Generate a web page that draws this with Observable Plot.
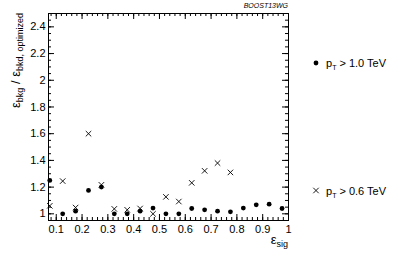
<!DOCTYPE html>
<html>
<head>
<meta charset="utf-8">
<script src="https://cdn.jsdelivr.net/npm/d3@7"></script>
<script src="https://cdn.jsdelivr.net/npm/@observablehq/plot@0.6"></script>
<style>
  html, body { margin: 0; padding: 0; background: #fff; }
  #chart { width: 399px; height: 254px; }
  svg { font-family: "Liberation Sans", Arial, sans-serif; }
</style>
</head>
<body>
<div id="chart"></div>
<script>
// signal efficiency bin centres
const effSig = [0.075, 0.125, 0.175, 0.225, 0.275, 0.325, 0.375, 0.425, 0.475, 0.525,
                0.575, 0.625, 0.675, 0.725, 0.775, 0.825, 0.875, 0.925, 0.975];
// pT > 1.0 TeV (filled circles)
const ratioHigh = [1.25, 1.00, 1.02, 1.175, 1.20, 1.00, 1.00, 1.02, 1.043, 1.00,
                   1.00, 1.04, 1.03, 1.02, 1.015, 1.043, 1.067, 1.072, 1.04];
// pT > 0.6 TeV (crosses)
const effSigLow = [0.075, 0.125, 0.175, 0.225, 0.275, 0.325, 0.375, 0.425, 0.475, 0.525,
                   0.575, 0.625, 0.675, 0.725, 0.775];
const ratioLow = [1.06, 1.245, 1.047, 1.60, 1.217, 1.037, 1.03, 1.04, 1.00, 1.127,
                  1.092, 1.232, 1.322, 1.38, 1.31];

const xMajor = [0.1, 0.2, 0.3, 0.4, 0.5, 0.6, 0.7, 0.8, 0.9, 1.0];
const xMinor = d3.range(4, 51).map(i => i * 0.02).filter(v => v >= 0.07 && v <= 1.0001);
const yMajor = [1.0, 1.2, 1.4, 1.6, 1.8, 2.0, 2.2, 2.4];
const yMinor = d3.range(19, 51).map(i => i * 0.05);

const high = effSig.map((x, i) => ({x, y: ratioHigh[i]}));
const low = effSigLow.map((x, i) => ({x, y: ratioLow[i]}));

const W = 399, H = 254;
const mL = 48, mR = 111, mT = 13, mB = 34;
const innerW = W - mL - mR, innerH = H - mT - mB;
const fmt = d => String(+d.toFixed(1));

const plot = Plot.plot({
  width: W, height: H,
  marginLeft: mL, marginRight: mR, marginTop: mT, marginBottom: mB,
  style: {fontFamily: "Liberation Sans, Arial, sans-serif", fontSize: "11px", background: "white"},
  x: {domain: [0.07, 1.0]},
  y: {domain: [0.95, 2.5]},
  marks: [
    // bottom / top ticks
    Plot.tickX(xMajor, {x: d => d, insetTop: innerH - 6, stroke: "black"}),
    Plot.tickX(xMajor, {x: d => d, insetBottom: innerH - 6, stroke: "black"}),
    Plot.tickX(xMinor, {x: d => d, insetTop: innerH - 3, stroke: "black"}),
    Plot.tickX(xMinor, {x: d => d, insetBottom: innerH - 3, stroke: "black"}),
    // left / right ticks
    Plot.tickY(yMajor, {y: d => d, insetRight: innerW - 6, stroke: "black"}),
    Plot.tickY(yMajor, {y: d => d, insetLeft: innerW - 6, stroke: "black"}),
    Plot.tickY(yMinor, {y: d => d, insetRight: innerW - 3, stroke: "black"}),
    Plot.tickY(yMinor, {y: d => d, insetLeft: innerW - 3, stroke: "black"}),
    Plot.frame({stroke: "black"}),
    Plot.axisX({ticks: xMajor, tickSize: 0, tickPadding: 5, tickFormat: fmt, label: null, fontSize: 11, fill: "black"}),
    Plot.axisY({ticks: yMajor, tickSize: 0, tickPadding: 3, tickFormat: fmt, label: null, fontSize: 11, fill: "black"}),
    Plot.dot(low, {x: "x", y: "y", symbol: "times", r: 2.6, stroke: "black", strokeWidth: 0.9}),
    Plot.dot(high, {x: "x", y: "y", r: 2.4, fill: "black", stroke: null})
  ]
});

const svg = d3.select(plot);

// y title
const yt = svg.append("text")
  .attr("transform", `translate(20,${mT}) rotate(-90)`)
  .attr("text-anchor", "end")
  .attr("font-size", 13)
  .attr("fill", "black");
yt.append("tspan").text("ε");
yt.append("tspan").attr("font-size", 9).attr("dy", 3).text("bkg");
yt.append("tspan").attr("dy", -3).text(" / ε");
yt.append("tspan").attr("font-size", 9).attr("dy", 3).text("bkd, optimized");

// x title
const xt = svg.append("text")
  .attr("x", W - mR).attr("y", 244)
  .attr("text-anchor", "end")
  .attr("font-size", 13)
  .attr("fill", "black");
xt.append("tspan").text("ε");
xt.append("tspan").attr("font-size", 9).attr("dy", 3).text("sig");

// top-right tag
svg.append("text")
  .attr("x", W - mR).attr("y", 8)
  .attr("text-anchor", "end")
  .attr("font-size", 7)
  .attr("font-style", "italic")
  .attr("fill", "black")
  .text("BOOST13WG");

// legend
function legendText(x, y, label) {
  const t = svg.append("text").attr("x", x).attr("y", y)
    .attr("text-anchor", "start").attr("font-size", 11).attr("fill", "black");
  t.append("tspan").text("p");
  t.append("tspan").attr("font-size", 7).attr("dy", 3).text("T");
  t.append("tspan").attr("dy", -3).text(" > " + label);
}
svg.append("circle").attr("cx", 316).attr("cy", 63).attr("r", 2.4).attr("fill", "black");
legendText(326, 66.5, "1.0 TeV");
svg.append("path")
  .attr("transform", "translate(316,190.5)")
  .attr("d", d3.symbol(d3.symbolTimes, Math.PI * 2.6 * 2.6)())
  .attr("fill", "none").attr("stroke", "black").attr("stroke-width", 0.9);
legendText(326, 194.5, "0.6 TeV");

document.getElementById("chart").appendChild(plot);
</script>
</body>
</html>
